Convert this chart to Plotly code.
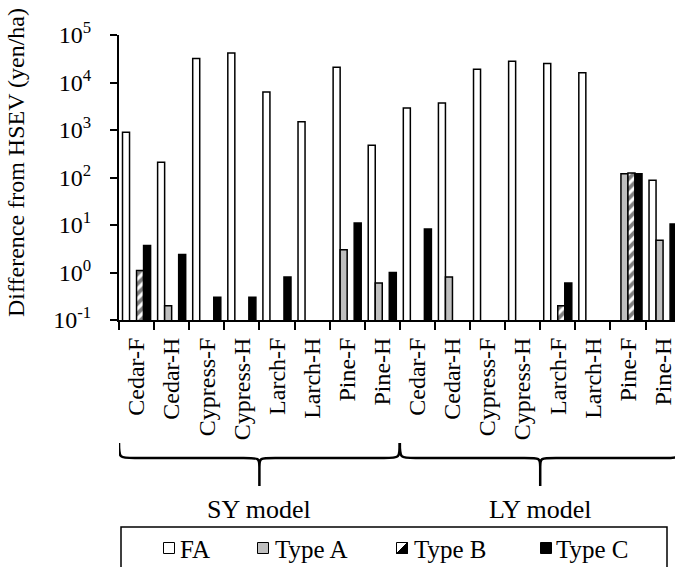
import plotly.graph_objects as go

# ---- data -------------------------------------------------------------
species = ["Cedar-F", "Cedar-H", "Cypress-F", "Cypress-H",
           "Larch-F", "Larch-H", "Pine-F", "Pine-H"]
models = ["SY model", "LY model"]
categories = species + species

fa     = [900, 210, 32000, 42000, 6300, 1500, 21000, 480,
          2900, 3700, 19000, 28000, 25000, 16000, None, 88]
type_a = [None, 0.2, None, None, None, None, 3.0, 0.6,
          None, 0.8, None, None, None, None, 120, 4.8]
type_b = [1.1, None, None, None, None, None, None, None,
          None, None, None, None, 0.2, None, 125, None]
type_c = [3.7, 2.4, 0.3, 0.3, 0.8, None, 11, 1.0,
          8.2, None, None, None, 0.6, None, 120, 10.5]

y_exponents = [-1, 0, 1, 2, 3, 4, 5]

# ---- geometry helpers -------------------------------------------------
FONT = "Liberation Serif"
W, H = 675, 567
L, R, T, B = 119, 0, 35, 247
PW, PH = W - L - R, H - T - B


def px(x):
    """pixel x -> paper x"""
    return (x - L) / PW


def py(y):
    """pixel y (from top) -> paper y"""
    return (H - B - y) / PH


xs = list(range(len(categories)))

fig = go.Figure()

series = [
    ("FA", fa, dict(color="white")),
    ("Type A", type_a, dict(color="#bfbfbf")),
    ("Type B", type_b, dict(color="white",
                            pattern=dict(shape="/", fgcolor="black",
                                         bgcolor="white", size=7,
                                         solidity=0.55))),
    ("Type C", type_c, dict(color="black")),
]
for name, vals, marker in series:
    fig.add_trace(go.Bar(
        x=xs, y=vals, name=name, showlegend=False,
        marker=dict(**marker, line=dict(color="black", width=1.5)),
    ))

fig.update_layout(
    width=W, height=H,
    margin=dict(l=L, r=R, t=T, b=B, pad=0),
    barmode="group", bargap=0.2, bargroupgap=0,
    plot_bgcolor="white", paper_bgcolor="white",
    font=dict(family=FONT, size=24, color="black"),
)

fig.update_xaxes(
    range=[-0.5, 15.34],
    tickmode="array", tickvals=xs, ticktext=categories,
    tickangle=-90, ticks="", ticklabelstandoff=6,
    ticklabeloverflow="allow",
    showline=True, linecolor="black", linewidth=2,
    showgrid=False, zeroline=False,
    tickfont=dict(family=FONT, size=24, color="black"),
    minor=dict(tickmode="array",
               tickvals=[i - 0.5 for i in range(len(categories) + 1)],
               ticks="outside", ticklen=8, tickwidth=2,
               tickcolor="black", showgrid=False),
)

fig.update_yaxes(
    type="log", range=[-1, 5],
    tickmode="array",
    tickvals=[10 ** k for k in y_exponents],
    ticktext=[f"10<sup>{k}</sup>" for k in y_exponents],
    ticks="outside", ticklen=7, tickwidth=2, tickcolor="black",
    ticklabelstandoff=14,
    showline=True, linecolor="black", linewidth=2,
    showgrid=False, zeroline=False,
    tickfont=dict(family=FONT, size=24, color="black"),
)

# y-axis title
fig.add_annotation(
    text="Difference from HSEV (yen/ha)", textangle=-90,
    xref="paper", yref="paper", x=px(16), y=py(163),
    xanchor="center", yanchor="middle",
    showarrow=False, font=dict(family=FONT, size=24, color="black"),
)

# ---- curly braces grouping the two models -----------------------------
def brace_path(x0, x1, y_top, y_mid, y_tip):
    xm = (x0 + x1) / 2
    d = 0.45
    yt, ym, yp = py(y_top), py(y_mid), py(y_tip)
    yq = py(y_mid + 9)
    return (f"M {x0},{yt} C {x0},{ym} {x0},{ym} {x0 + d},{ym} "
            f"L {xm - d},{ym} C {xm},{ym} {xm},{ym} {xm},{yq} "
            f"L {xm},{yp} M {xm},{yq} C {xm},{ym} {xm},{ym} {xm + d},{ym} "
            f"L {x1 - d},{ym} C {x1},{ym} {x1},{ym} {x1},{yt}")


n = len(species)
for i, model in enumerate(models):
    x0 = i * n - 0.5
    x1 = (i + 1) * n - 0.5
    fig.add_shape(type="path", xref="x", yref="paper",
                  path=brace_path(x0, x1, 443, 458, 486),
                  line=dict(color="black", width=2.5))
    fig.add_annotation(text=model, xref="x", yref="paper",
                       x=(x0 + x1) / 2, y=py(510),
                       xanchor="center", yanchor="middle",
                       showarrow=False,
                       font=dict(family=FONT, size=26, color="black"))

# ---- legend box ------------------------------------------------------
fig.add_shape(type="rect", xref="paper", yref="paper",
              x0=px(121), x1=px(667), y0=py(527), y1=py(600),
              line=dict(color="black", width=1.5), fillcolor="white",
              layer="below")

# (label, swatch centre px, text start px, fill)
legend_items = [("FA", 169, 178, "white"),
                ("Type A", 263, 273, "#bfbfbf"),
                ("Type B", 402, 412, "white"),
                ("Type C", 546, 554, "black")]
sq = 5.5
yc = 548
for name, cx, tx, fill in legend_items:
    fig.add_shape(type="rect", xref="paper", yref="paper",
                  x0=px(cx - sq), x1=px(cx + sq),
                  y0=py(yc + sq), y1=py(yc - sq),
                  line=dict(color="black", width=1), fillcolor=fill)
    if name == "Type B":
        fig.add_shape(type="path", xref="paper", yref="paper",
                      path=(f"M {px(cx - sq)},{py(yc + sq)} "
                            f"L {px(cx + sq)},{py(yc + sq)} "
                            f"L {px(cx + sq)},{py(yc - sq)} Z"),
                      line=dict(color="black", width=1),
                      fillcolor="black")
    fig.add_annotation(text=name, xref="paper", yref="paper",
                       x=px(tx), y=py(yc + 1),
                       xanchor="left", yanchor="middle",
                       showarrow=False,
                       font=dict(family=FONT, size=25, color="black"))

fig.write_html("out.html")
